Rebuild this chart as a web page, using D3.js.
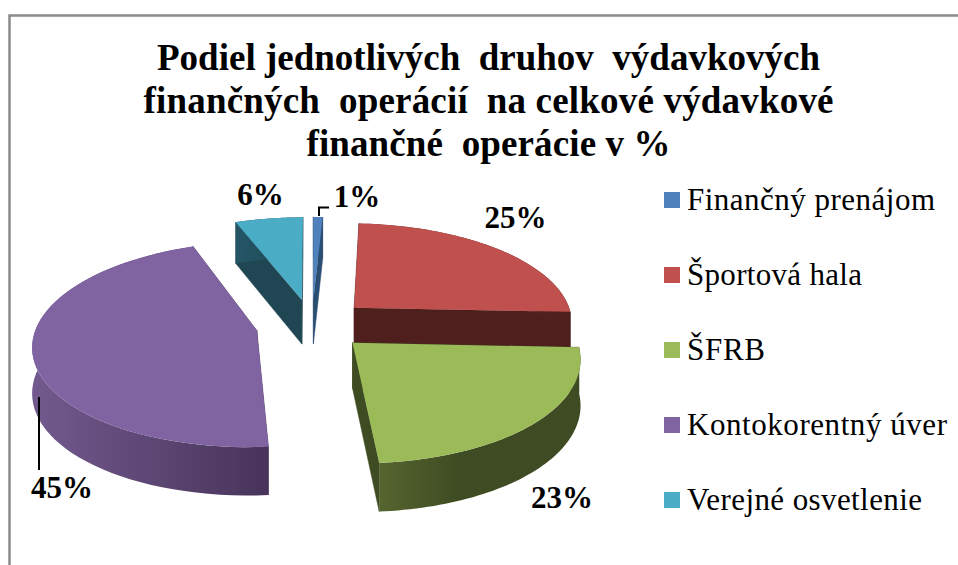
<!DOCTYPE html>
<html><head><meta charset="utf-8">
<script src="https://cdn.jsdelivr.net/npm/d3@7/dist/d3.min.js"></script>
<style>html,body{margin:0;padding:0;background:#fff}svg{display:block}text{font-family:"Liberation Serif",serif;fill:#000}</style>
</head><body><svg id="c" width="958" height="565"></svg>
<script>
const titleLines = ["Podiel jednotlivých  druhov  výdavkových","finančných  operácií  na celkové výdavkové","finančné  operácie v %"];
const categories = ["Finančný prenájom","Športová hala","ŠFRB","Kontokorentný úver","Verejné osvetlenie"];
const shares = [0.8,24.9,23.05,45.49,5.76];
const explode = [0.265,0.265,0.25,0.255,0.265];
const topColors = ["#4f81bd","#c0504d","#9bbb59","#8064a2","#4bacc6"];
const wallLight = ["#2a4d72","#5a2523","#55652f","#725a8e","#245666"];
const wallDark  = ["#2a4d72","#4f1f1e","#3f4b22","#48345a","#1f4652"];

const svg = d3.select("#c");
const W = 958, H = 565;
// frame
svg.append("path").attr("d",`M9.5,${H}V15.5H${W}`).attr("fill","none").attr("stroke","#8a8a8a").attr("stroke-width",2.5);

// title
const titleY = d3.scalePoint().domain(d3.range(titleLines.length)).range([70,156]);
const titleW = [663,690,364];
svg.selectAll("text.t").data(titleLines).join("text").attr("class","t")
  .attr("x",488.5).attr("y",(d,i)=>titleY(i)).attr("text-anchor","middle")
  .attr("font-size",37).attr("font-weight","bold").attr("xml:space","preserve").style("white-space","pre")
  .attr("textLength",(d,i)=>titleW[i]).attr("lengthAdjust","spacing").text(d=>d);

// pie in a perspective plane
const cx=312, cy=325, R=220, K=99.6, P=0.132, DEPTH=45, DP=0.07;
const arcs = d3.pie().sort(null).value(d=>d)(shares);
const proj = (u,v,down)=>{
  const s = 1/(1-P*v);
  return [cx+R*u*s, cy+K*v*s+(down?DEPTH*(1+DP*v):0)];
};
const line = d3.line();
const defs = svg.append("defs");
arcs.forEach((a,i)=>{
  const g = defs.append("linearGradient").attr("id","w"+i);
  g.append("stop").attr("offset","0").attr("stop-color",wallLight[i]);
  g.append("stop").attr("offset",i===2?"0.4":"1").attr("stop-color",wallDark[i]);
});
const order = [4,0,1,3,2];
order.forEach(i=>{
  const a = arcs[i], mid=(a.startAngle+a.endAngle)/2, E=explode[i];
  const ox=E*Math.sin(mid), oy=-E*Math.cos(mid);
  const ang=d3.range(0,61).map(k=>a.startAngle+(a.endAngle-a.startAngle)*k/60);
  const rim=(down)=>ang.map(t=>proj(ox+Math.sin(t),oy-Math.cos(t),down));
  const apex=(down)=>proj(ox,oy,down);
  const g=svg.append("g").attr("class","slice");
  // inner walls
  [0,60].forEach(k=>{
    const t=ang[k], e=(d)=>proj(ox+Math.sin(t),oy-Math.cos(t),d);
    g.append("path").attr("d",line([apex(false),e(false),e(true),apex(true)])+"Z")
      .attr("fill",wallDark[i]).attr("stroke",wallDark[i]).attr("stroke-width",.5);
  });
  // outer wall
  g.append("path").attr("d",line(rim(false).concat(rim(true).reverse()))+"Z").attr("fill",`url(#w${i})`);
  // top
  g.append("path").attr("d",line([apex(false)].concat(rim(false)))+"Z").attr("fill",topColors[i]);
});

// leaders
svg.append("path").attr("d","M319,216V207.500H329").attr("fill","none").attr("stroke","#000").attr("stroke-width",2);
svg.append("path").attr("d","M39,397V470").attr("fill","none").attr("stroke","#000").attr("stroke-width",2);

// value labels
const labelX=[357,515.500,562,62,260.500], labelY=[207,228,508,498,205];
svg.selectAll("text.v").data(shares).join("text").attr("class","v")
  .attr("x",(d,i)=>labelX[i]).attr("y",(d,i)=>labelY[i]).attr("text-anchor","middle")
  .attr("font-size",31).attr("font-weight","bold").text(d=>Math.round(d)+"%");

// legend
const ly=d3.scalePoint().domain(categories).range([200,500]);
const legendW=[248,175,78,260,235];
const lg=svg.selectAll("g.l").data(categories).join("g").attr("class","l").attr("transform",d=>`translate(0,${ly(d)})`);
lg.append("rect").attr("x",664).attr("y",-8).attr("width",16).attr("height",16).attr("fill",(d,i)=>topColors[i]);
lg.append("text").attr("x",687).attr("y",10).attr("font-size",31)
  .attr("textLength",(d,i)=>legendW[i]).attr("lengthAdjust","spacing").text(d=>d);
</script></body></html>
